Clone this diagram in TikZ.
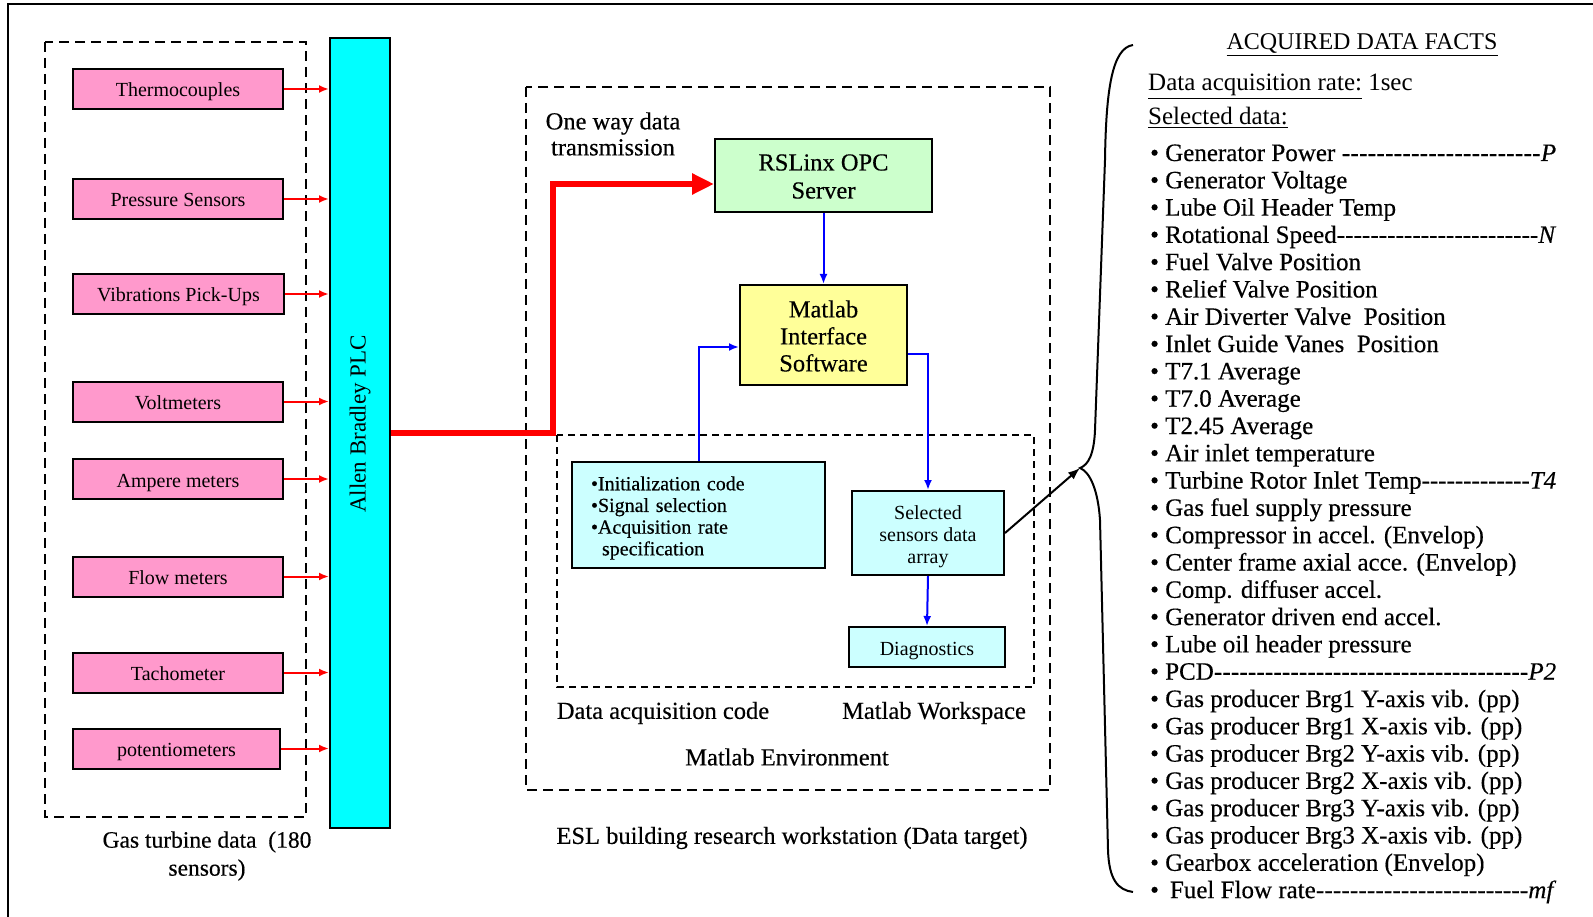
\documentclass[tikz,border=0pt]{standalone}
\usepackage{fontspec}
\setmainfont{Liberation Serif}
\newfontfamily\heavy{Liberation Serif}[FakeBold=0.4]
\usetikzlibrary{arrows.meta}
\definecolor{pinkbox}{HTML}{FF99CC}
\definecolor{cyanbar}{HTML}{00FFFF}
\definecolor{greenbox}{HTML}{CCFFCC}
\definecolor{yellowbox}{HTML}{FFFF99}
\definecolor{lightcyan}{HTML}{CCFFFF}
\newcommand\myfs[2]{\fontsize{#1}{#2}\selectfont}
\newcommand\itm[2]{\node[listitem] (i#1) at (1150,{161+27.3*(#1-1)}) {#2};}
\newcommand\lead[2]{\hbox to 406pt{#1\xleaders\hbox{-}\hfill\textit{#2}}}
\begin{document}
\begin{tikzpicture}[x=1pt,y=-1pt,
  sensor/.style={draw,line width=2pt,fill=pinkbox,minimum width=210pt,minimum height=40pt,inner sep=0pt,text height=16pt,text depth=0pt,font=\myfs{20}{24}},
  box/.style={draw,line width=2pt,inner sep=0pt,align=center},
  intext/.style={inner sep=0pt,align=center,yshift=-3pt},
  grp/.style={dash pattern=on 10pt off 6pt,line width=2.8pt},
  subgrp/.style={dash pattern=on 7pt off 5pt,line width=2pt},
  redarr/.style={red,line width=2pt,-{Latex[length=10pt,width=8pt]}},
  bluearr/.style={blue,line width=2pt,-{Latex[length=10pt,width=8pt]}},
  lbl/.style={inner sep=0pt,align=center,font=\heavy\myfs{24.5}{26}},
  listitem/.style={anchor=base west,inner sep=0pt,font=\heavy\myfs{25}{30}},
]
\useasboundingbox (0,0) rectangle (1593,917);
% outer frame
\draw[line width=2.4pt] (8,917) -- (8,4) -- (1593,4);

% dashed groups
\draw[grp] (45,42) rectangle (306,817);
\draw[grp] (526,87) rectangle (1050,790);
\draw[subgrp] (557,435) rectangle (1034,687);

% sensors
\node[sensor] (s1) at (178,89) {Thermocouples};
\node[sensor] (s2) at (178,199) {Pressure Sensors};
\node[sensor,minimum width=211pt] (s3) at (178.5,294) {Vibrations Pick-Ups};
\node[sensor] (s4) at (178,401.5) {Voltmeters};
\node[sensor] (s5) at (178,479) {Ampere meters};
\node[sensor] (s6) at (178,576.5) {Flow meters};
\node[sensor] (s7) at (178,672.5) {Tachometer};
\node[sensor,minimum width=207pt] (s8) at (176.5,748.5) {potentiometers};

% PLC
\node[draw,line width=2pt,fill=cyanbar,minimum width=60pt,minimum height=790pt,inner sep=0pt] (plc) at (360,433) {};
\node[rotate=90,inner sep=0pt,font=\myfs{23}{27}] (plct) at (360,424) {Allen Bradley PLC};

\foreach \s in {s1,s2,s3,s4,s5,s6,s7,s8}
  \draw[redarr] (\s.east) -- (\s.east -| plc.west);

\node[lbl,font=\heavy\myfs{23.5}{28}] (gtd) at (207,856) {Gas turbine data\ \ (180\\sensors)};

% middle boxes
\node[box,fill=greenbox,minimum width=217pt,minimum height=73pt,
  label={[intext,name=rst,yshift=2pt,font=\heavy\myfs{24.5}{28}]center:RSLinx OPC\\Server}] (rs) at (823.5,175.5) {};
\node[box,fill=yellowbox,minimum width=167pt,minimum height=100pt,
  label={[intext,name=mlt,yshift=2pt,font=\heavy\myfs{24.5}{27}]center:Matlab\\Interface\\Software}] (ml) at (823.5,335) {};
\node[box,fill=lightcyan,minimum width=253pt,minimum height=106pt,
  label={[intext,name=initt,align=left,text width=215pt,font=\heavy\myfs{20}{21.7}]center:•Initialization code\\•Signal selection\\•Acquisition rate\\\hspace*{11pt}specification}] (init) at (698.5,515) {};
\node[box,fill=lightcyan,minimum width=152pt,minimum height=84pt,
  label={[intext,name=selt,yshift=-1pt,font=\myfs{20}{22}]center:Selected\\sensors data\\array}] (sel) at (928,533) {};
\node[box,fill=lightcyan,minimum width=156pt,minimum height=40pt,text height=16pt,text depth=0pt,font=\myfs{20}{24}] (diag) at (927,647) {Diagnostics};

% red thick transmission
\coordinate (bend) at (553,184);
\draw[red,line width=6pt,-{Triangle[length=22pt,width=20pt]}] (plc.east) -| (bend) -- ([yshift=-8.5pt]rs.west);

% blue arrows
\draw[bluearr] (rs.south) -- (ml.north);
\draw[bluearr] (init.north) |- ([yshift=-12pt]ml.west);
\draw[bluearr] ([yshift=-19pt]ml.east) -| (sel.north);
\draw[bluearr] (sel.south) -- (diag.north);

% labels
\node[lbl] (owd) at (613,134) {One way data\\transmission};
\node[lbl] (dac) at (663,713) {Data acquisition code};
\node[lbl] (mws) at (934,713) {Matlab Workspace};
\node[lbl] (menv) at (787,757) {Matlab Environment};
\node[lbl] (esl) at (792,838) {ESL building research workstation (Data target)};

% brace
\coordinate (tip) at (1080,468);
\draw[line width=2pt] (1133,45) .. controls (1112,48) and (1106,90) .. (1105,160) -- (1095,430) .. controls (1094,455) and (1088,465) .. (tip) .. controls (1090,472) and (1098,490) .. (1100,520) -- (1108,850) .. controls (1109,880) and (1118,890) .. (1133,892);
\draw[line width=2pt,-{Latex[length=12pt,width=9pt]}] (sel.east) -- (tip);

% facts
\node[anchor=base,inner sep=0pt,font=\myfs{24}{28}] (hdr) at (1362,50) {\underline{ACQUIRED DATA FACTS}};
\node[anchor=base west,inner sep=0pt,font=\myfs{25}{30}] (rate) at (1148,91) {\underline{Data acquisition rate:} 1sec};
\node[anchor=base west,inner sep=0pt,font=\myfs{25}{30}] (seld) at (1148,125) {\underline{Selected data:}};

\itm{1}{\lead{• Generator Power }{P}}
\itm{2}{• Generator Voltage}
\itm{3}{• Lube Oil Header Temp}
\itm{4}{\lead{• Rotational Speed}{N}}
\itm{5}{• Fuel Valve Position}
\itm{6}{• Relief Valve Position}
\itm{7}{• Air Diverter Valve\ \ Position}
\itm{8}{• Inlet Guide Vanes\ \ Position}
\itm{9}{• T7.1 Average}
\itm{10}{• T7.0 Average}
\itm{11}{• T2.45 Average}
\itm{12}{• Air inlet temperature}
\itm{13}{\lead{• Turbine Rotor Inlet Temp}{T4}}
\itm{14}{• Gas fuel supply pressure}
\itm{15}{• Compressor in accel. (Envelop)}
\itm{16}{• Center frame axial acce. (Envelop)}
\itm{17}{• Comp. diffuser accel.}
\itm{18}{• Generator driven end accel.}
\itm{19}{• Lube oil header pressure}
\itm{20}{\lead{• PCD}{P2}}
\itm{21}{• Gas producer Brg1 Y-axis vib. (pp)}
\itm{22}{• Gas producer Brg1 X-axis vib. (pp)}
\itm{23}{• Gas producer Brg2 Y-axis vib. (pp)}
\itm{24}{• Gas producer Brg2 X-axis vib. (pp)}
\itm{25}{• Gas producer Brg3 Y-axis vib. (pp)}
\itm{26}{• Gas producer Brg3 X-axis vib. (pp)}
\itm{27}{• Gearbox acceleration (Envelop)}
\itm{28}{\lead{•\hspace{11pt}Fuel Flow rate}{mf}}
\end{tikzpicture}
\end{document}
